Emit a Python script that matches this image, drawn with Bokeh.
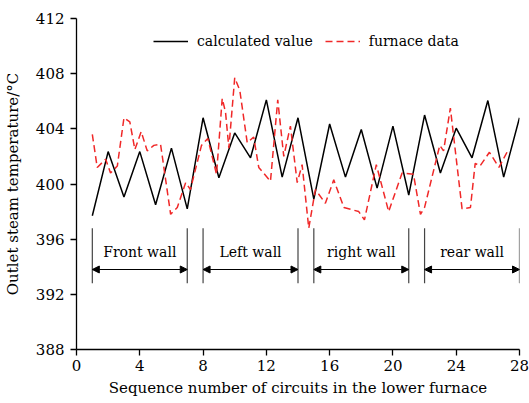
from bokeh.plotting import figure
from bokeh.models import Range1d, FixedTicker, Arrow, NormalHead, ColumnDataSource
from bokeh.core.properties import value
from bokeh.embed import file_html
from bokeh.resources import INLINE

# Outlet steam temperature of each circuit in the lower furnace
circuit_seq = list(range(1, 29))
calculated = [397.7, 402.35, 399.05, 402.35, 398.5, 402.6, 398.2, 404.8,
              400.45, 403.7, 401.9, 406.1, 400.5, 404.8, 398.9, 404.35,
              400.5, 403.95, 399.7, 404.2, 399.2, 405.0, 400.8, 404.05,
              401.9, 406.05, 400.5, 404.8]

# Measured furnace data
furnace_seq = [1.0, 1.31, 1.84, 2.15, 2.58, 3.0, 3.37, 3.69, 4.09, 4.47, 4.89,
               5.31, 5.95, 6.37, 6.9, 7.2, 7.9, 8.3, 8.85, 9.21, 9.42, 9.63,
               10.0, 10.32, 10.79, 11.2, 11.52, 12.26, 12.72, 13.1, 13.52,
               13.95, 14.26, 14.68, 15.1, 15.73, 16.26, 16.9, 17.84, 18.2,
               18.95, 19.73, 20.58, 21.3, 21.74, 22.0, 22.96, 23.2, 23.63,
               24.37, 24.9, 25.2, 25.5, 26.1, 26.7, 27.3]
furnace_temp = [403.6, 401.2, 401.8, 400.8, 401.3, 404.8, 404.5, 402.5, 403.8,
                402.4, 402.8, 402.9, 397.8, 398.3, 400.1, 399.6, 402.8, 403.3,
                400.7, 406.2, 405.2, 402.6, 407.7, 406.8, 403.0, 403.4, 401.2,
                400.2, 406.1, 402.0, 404.2, 400.1, 401.4, 396.8, 399.6, 398.6,
                400.3, 398.3, 398.0, 397.4, 401.4, 398.0, 400.8, 400.7, 397.8,
                398.3, 402.8, 402.4, 405.5, 398.2, 398.3, 401.5, 401.3, 402.3,
                401.2, 402.5]

# Wall groups
wall_names = ["Front wall", "Left wall", "right wall", "rear wall"]
wall_first = [1, 8, 15, 22]
wall_last = [7, 14, 21, 28]

x_ticks = [0, 4, 8, 12, 16, 20, 24, 28]
y_ticks = [388, 392, 396, 400, 404, 408, 412]

# Vertical placement of the wall brackets
BRACKET_TOP = 396.8
BRACKET_BOTTOM = 392.8
ARROW_LEVEL = 393.8
LABEL_LEVEL = 395.1

FONT = "DejaVu Serif"

p = figure(width=529, height=403,
           x_range=Range1d(0, 28), y_range=Range1d(388, 412),
           output_backend="svg", toolbar_location=None,
           min_border_left=75, min_border_right=10,
           min_border_top=18, min_border_bottom=54)
p.outline_line_color = None
p.xgrid.visible = False
p.ygrid.visible = False
p.background_fill_color = "white"
p.border_fill_color = "white"

for ax in (p.xaxis[0], p.yaxis[0]):
    ax.axis_line_width = 1.3
    ax.major_tick_line_width = 1.3
    ax.major_tick_out = 6
    ax.major_tick_in = 0
    ax.minor_tick_line_color = None
    ax.major_label_text_font = FONT
    ax.major_label_text_font_size = "15px"
    ax.major_label_text_color = "black"
    ax.axis_label_text_font = FONT
    ax.axis_label_text_font_size = "15px"
    ax.axis_label_text_font_style = "normal"
    ax.axis_label_text_color = "black"

p.xaxis.ticker = FixedTicker(ticks=x_ticks)
p.yaxis.ticker = FixedTicker(ticks=y_ticks)
p.xaxis.axis_label = "Sequence number of circuits in the lower furnace"
p.yaxis.axis_label = "Outlet steam temperature/°C"
p.xaxis.major_label_standoff = 4
p.xaxis.axis_label_standoff = 5
p.yaxis.major_label_standoff = 6
p.yaxis.axis_label_standoff = 11

# Data series
p.line(circuit_seq, calculated, line_color="black", line_width=1.5,
       legend_label="calculated value")
p.line(furnace_seq, furnace_temp, line_color="#f02828", line_width=1.5,
       line_dash="7 4", legend_label="furnace data")

# Wall brackets: end markers, double arrows and names
edges = wall_first + wall_last
p.segment(x0=edges, y0=[BRACKET_BOTTOM] * len(edges),
          x1=edges, y1=[BRACKET_TOP] * len(edges),
          line_color="#444444", line_width=1.2)
for a, b in zip(wall_first, wall_last):
    p.add_layout(Arrow(
        start=NormalHead(size=7, fill_color="black", line_color="black", line_width=1),
        end=NormalHead(size=7, fill_color="black", line_color="black", line_width=1),
        x_start=a, y_start=ARROW_LEVEL, x_end=b, y_end=ARROW_LEVEL,
        line_color="black", line_width=1))

label_src = ColumnDataSource(dict(
    x=[(a + b) / 2 for a, b in zip(wall_first, wall_last)],
    y=[LABEL_LEVEL] * len(wall_names),
    t=wall_names))
p.text(x="x", y="y", text="t", source=label_src, text_align="center",
       text_baseline="middle", text_font=value(FONT), text_font_size="14px",
       text_color="black")

leg = p.legend[0]
leg.orientation = "horizontal"
leg.location = (77, 298)
leg.border_line_color = None
leg.background_fill_alpha = 0
leg.padding = 0
leg.margin = 0
leg.spacing = 12
leg.label_standoff = 9
leg.glyph_width = 35
leg.glyph_height = 20
leg.label_height = 20
leg.label_text_font = FONT
leg.label_text_font_size = "14px"
leg.label_text_color = "black"

open("out.html", "w").write(file_html(p, INLINE))
